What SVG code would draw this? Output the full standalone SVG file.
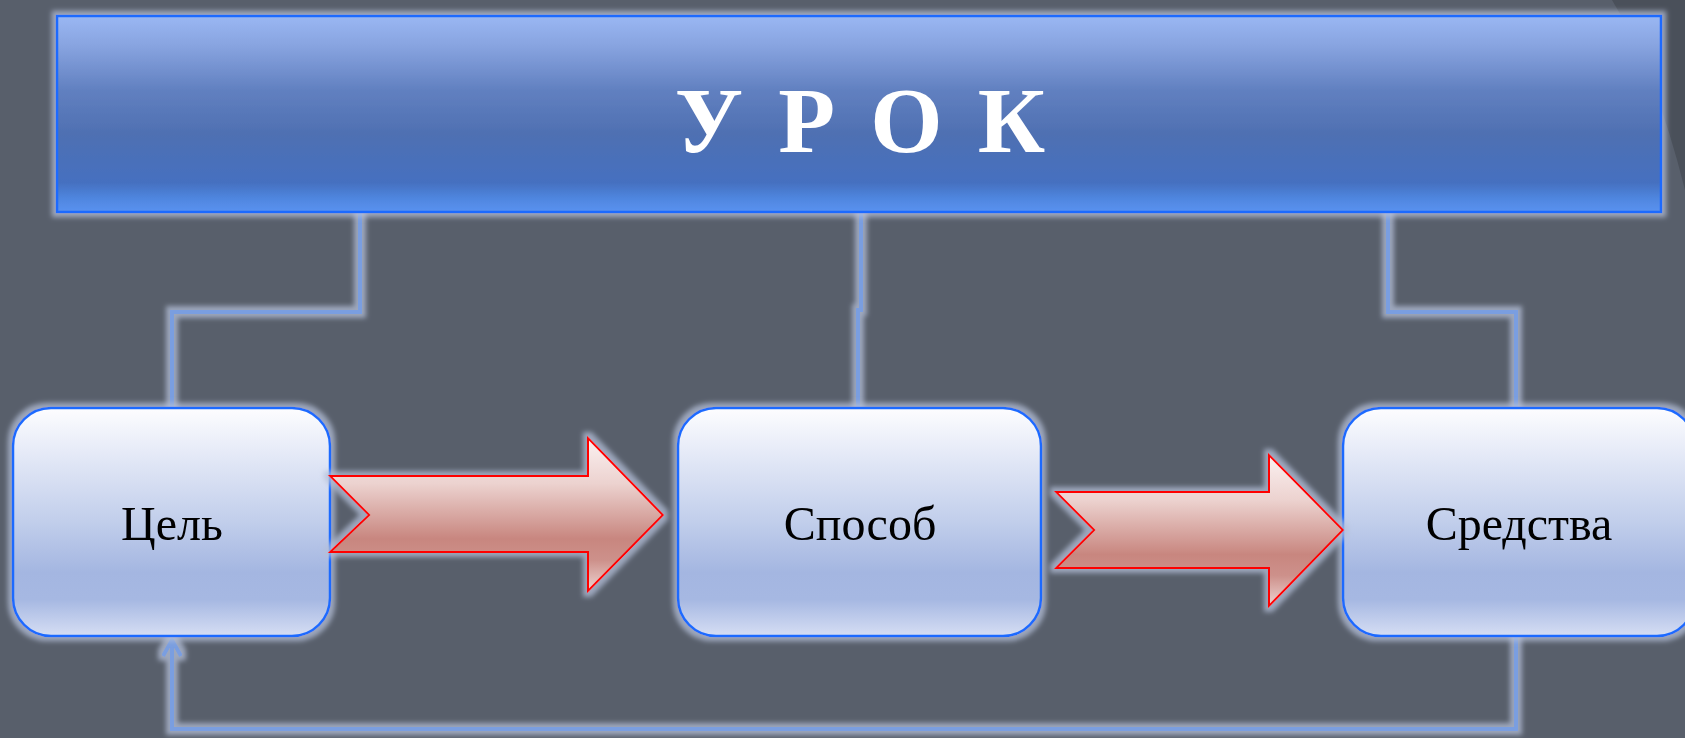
<svg xmlns="http://www.w3.org/2000/svg" width="1685" height="738" viewBox="0 0 1685 738">
<defs>
<style>
.conn{fill:none;stroke:#7a9ee0;stroke-width:4;stroke-linejoin:miter}
.node{stroke:#1f6bff;stroke-width:2.5;fill:url(#gNode)}
.arrow{stroke:#ff0000;stroke-width:2;fill:url(#gArrow);stroke-linejoin:miter}
.lbl{font-family:"Liberation Serif","Times New Roman",serif;font-size:48px;fill:#000;text-anchor:middle}
.title{font-family:"Liberation Serif","Times New Roman",serif;font-size:93px;font-weight:bold;fill:#fff;text-anchor:middle;letter-spacing:6px}
</style>
<linearGradient id="gTop" x1="0" y1="0" x2="0" y2="1">
<stop offset="0" stop-color="#9ab7f3"/>
<stop offset="0.15" stop-color="#88a4e0"/>
<stop offset="0.38" stop-color="#6180c0"/>
<stop offset="0.6" stop-color="#4f70b2"/>
<stop offset="0.85" stop-color="#4570c0"/>
<stop offset="0.93" stop-color="#4f86df"/>
<stop offset="1" stop-color="#5a92f0"/>
</linearGradient>
<linearGradient id="gNode" x1="0" y1="0" x2="0" y2="1">
<stop offset="0" stop-color="#fdfdff"/>
<stop offset="0.25" stop-color="#dfe5f5"/>
<stop offset="0.5" stop-color="#c1ceeb"/>
<stop offset="0.72" stop-color="#a4b6e1"/>
<stop offset="0.84" stop-color="#a6b8e2"/>
<stop offset="1" stop-color="#d6def4"/>
</linearGradient>
<linearGradient id="gArrow" x1="0" y1="0" x2="0" y2="1">
<stop offset="0" stop-color="#fbf1f1"/>
<stop offset="0.3" stop-color="#ecd2cf"/>
<stop offset="0.66" stop-color="#c8867f"/>
<stop offset="0.8" stop-color="#cd918b"/>
<stop offset="1" stop-color="#eed4d2"/>
</linearGradient>
<filter id="glow" filterUnits="userSpaceOnUse" x="-20" y="-20" width="1725" height="778">
<feMorphology in="SourceAlpha" operator="dilate" radius="4" result="d"/>
<feGaussianBlur in="d" stdDeviation="2.5" result="b"/>
<feFlood flood-color="#b4bfd8" flood-opacity="0.75"/>
<feComposite in2="b" operator="in" result="g"/>
<feMerge><feMergeNode in="g"/><feMergeNode in="SourceGraphic"/></feMerge>
</filter>
<marker id="openArrow" viewBox="0 0 20 20" refX="18" refY="10" markerWidth="20" markerHeight="20" markerUnits="userSpaceOnUse" orient="auto">
<path d="M2,1 L18,10 L2,19" fill="none" stroke="#7a9ee0" stroke-width="4"/>
</marker>
</defs>
<rect x="0" y="0" width="1685" height="738" fill="#585f6b"/>
<path d="M1612,0 Q1655,70 1685,190 V0 Z" fill="#4a505a"/>

<g id="connectors" filter="url(#glow)">
<path class="conn" d="M360,212 V312 H172 V408"/>
<path class="conn" d="M861,212 V310 H858 V408"/>
<path class="conn" d="M1388,212 V312 H1516 V408"/>
<path class="conn" d="M1516,636 V729 H172 V640" marker-end="url(#openArrow)"/>
</g>

<g id="node-urok" filter="url(#glow)">
<rect x="57" y="16" width="1604" height="196" fill="url(#gTop)" stroke="#1f6bff" stroke-width="2.5"/>
<text class="title" x="863" y="152">У Р О К</text>
</g>

<g id="node-cel" filter="url(#glow)">
<rect class="node" x="13" y="408" width="317" height="228" rx="38"/>
<text class="lbl" x="172" y="540">Цель</text>
</g>

<g id="node-sposob" filter="url(#glow)">
<rect class="node" x="678" y="408" width="363" height="228" rx="38"/>
<text class="lbl" x="860" y="540">Способ</text>
</g>

<g id="node-sredstva" filter="url(#glow)">
<rect class="node" x="1343" y="408" width="352" height="228" rx="38"/>
<text class="lbl" x="1519" y="540">Средства</text>
</g>

<g id="arrow-1" filter="url(#glow)">
<polygon class="arrow" points="330,476 588,476 588,438 663,515 588,591 588,552 330,552 369,515"/>
</g>
<g id="arrow-2" filter="url(#glow)">
<polygon class="arrow" points="1056,492 1269,492 1269,455 1343,530 1269,606 1269,568 1056,568 1094,530"/>
</g>
</svg>
